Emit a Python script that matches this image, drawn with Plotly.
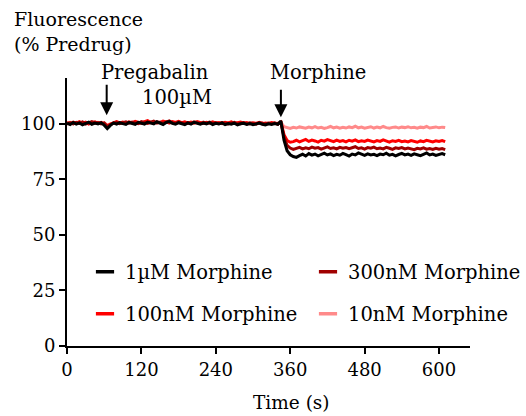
import plotly.graph_objects as go

# ---------------- data (5 s sampling) ----------------
step_s = 5
series_names = ["10nM Morphine", "100nM Morphine", "300nM Morphine", "1µM Morphine"]
series_colors = ["#FF8A8A", "#FF0000", "#A00000", "#000000"]

morphine_10nM = [
    100.0, 100.5, 99.9, 100.4, 100.1, 100.7, 100.2, 100.5, 99.9, 100.3,
    100.6, 100.2, 100.4, 99.4, 100.0, 100.3, 100.7, 100.1, 100.5, 100.2,
    100.6, 100.3, 100.8, 100.4, 100.1, 100.5, 100.9, 100.3, 100.6, 100.2,
    100.7, 100.4, 100.9, 100.2, 100.6, 100.3, 100.8, 100.1, 100.5, 100.2,
    100.5, 100.1, 100.6, 100.3, 100.7, 100.2, 100.4, 100.0, 100.5, 100.2,
    100.4, 100.0, 100.3, 100.6, 100.1, 100.3, 99.9, 100.4, 100.1, 100.3,
    99.9, 100.2, 100.0, 100.4, 99.8, 100.1, 100.3, 99.9, 100.2, 100.5,
    98.6, 98.1, 97.8, 98.3, 98.0, 98.5, 98.2, 97.9, 98.4, 98.1,
    98.6, 98.0, 98.3, 97.8, 98.2, 98.7, 98.1, 98.4, 97.9, 98.3,
    98.0, 98.5, 98.2, 98.8, 98.1, 98.4, 97.9, 98.3, 98.6, 98.0,
    98.4, 98.1, 98.7, 98.2, 97.9, 98.3, 98.5, 98.0, 98.4, 98.2,
    98.6, 98.1, 98.3, 97.9, 98.4, 98.2, 98.7, 98.0, 98.3, 98.5,
    98.1, 98.4, 98.2,
]
morphine_100nM = [
    100.5, 99.9, 100.7, 100.2, 100.9, 100.1, 100.6, 99.8, 100.4, 100.8,
    100.1, 100.6, 99.9, 98.9, 99.8, 100.5, 100.9, 100.3, 100.7, 100.1,
    100.8, 100.3, 101.0, 100.5, 100.2, 100.9, 101.3, 100.6, 100.2, 100.8,
    100.4, 101.1, 100.7, 100.3, 100.9, 100.5, 101.0, 100.4, 100.8, 100.2,
    100.7, 100.3, 100.9, 100.5, 100.1, 100.6, 100.3, 100.8, 100.2, 100.5,
    100.0, 100.6, 100.3, 100.8, 100.1, 100.4, 100.7, 100.2, 100.5, 99.9,
    100.4, 100.1, 100.6, 99.9, 100.3, 100.0, 100.5, 100.2, 99.8, 100.7,
    95.0, 92.4, 91.6, 91.9, 92.5, 91.8, 92.3, 92.9, 92.0, 92.6,
    92.2, 91.7, 92.5, 92.1, 92.8, 92.3, 91.9, 92.6, 92.0, 92.4,
    91.8, 92.5, 92.1, 92.7, 91.9, 92.3, 92.0, 92.6, 92.2, 91.8,
    92.4, 92.0, 92.7, 92.1, 91.7, 92.3, 92.0, 92.5, 91.9, 92.2,
    91.8, 92.4, 92.0, 91.6, 92.2, 91.9, 92.5, 92.1, 91.8, 92.3,
    92.0, 92.4, 91.9,
]
morphine_300nM = [
    99.8, 100.4, 99.9, 100.6, 100.1, 100.7, 99.8, 100.3, 100.9, 100.2,
    100.5, 99.9, 100.3, 98.6, 99.6, 100.1, 100.6, 100.0, 100.5, 100.8,
    100.2, 100.7, 100.3, 100.0, 100.9, 100.4, 100.1, 100.6, 101.1, 100.3,
    100.6, 100.2, 100.8, 101.2, 100.4, 100.1, 100.7, 100.3, 100.0, 100.5,
    100.1, 100.8, 100.4, 100.0, 100.6, 100.2, 100.7, 100.1, 100.4, 100.0,
    100.5, 100.1, 99.8, 100.3, 100.6, 99.9, 100.2, 100.5, 99.8, 100.3,
    100.0, 99.7, 100.4, 100.1, 99.8, 100.2, 99.9, 100.3, 99.8, 100.6,
    94.0, 90.2, 89.0, 88.4, 88.9, 89.3, 88.6, 89.1, 88.7, 89.4,
    88.9, 89.2, 88.5, 89.0, 89.5, 88.8, 89.1, 88.6, 89.3, 88.9,
    89.2, 88.7, 89.0, 89.6, 88.8, 89.1, 88.5, 89.2, 88.9, 89.4,
    88.7, 89.0, 88.6, 89.3, 88.9, 88.4, 89.1, 88.8, 89.2, 88.6,
    89.0, 88.7, 88.3, 88.9, 88.6, 89.1, 88.5, 88.8, 88.4, 88.9,
    88.5, 88.8, 88.3,
]
morphine_1uM = [
    100.2, 99.6, 100.5, 99.8, 100.3, 99.5, 100.1, 100.6, 99.7, 100.2,
    99.9, 100.4, 99.3, 97.8, 99.2, 100.3, 99.8, 100.4, 100.0, 99.6,
    100.5, 100.1, 99.7, 100.6, 100.2, 99.8, 100.7, 100.3, 99.9, 100.8,
    100.2, 99.6, 100.5, 100.9, 100.1, 99.7, 100.4, 100.0, 99.5, 100.3,
    99.8, 100.6, 100.1, 99.7, 100.2, 99.9, 100.4, 99.6, 100.1, 99.8,
    100.3, 99.5, 100.0, 99.7, 100.2, 99.4, 99.9, 100.1, 99.6, 100.0,
    99.5, 99.8, 100.2, 99.7, 99.4, 99.9, 99.6, 100.0, 99.7, 101.2,
    92.5, 87.8, 86.0, 85.2, 84.8, 85.6, 86.2, 85.4, 86.5, 85.8,
    86.3, 85.5, 86.1, 86.7, 85.9, 86.4, 85.6, 86.2, 85.8, 86.6,
    86.0, 85.4, 86.3, 85.9, 86.8, 86.1, 85.7, 86.4, 85.9, 86.2,
    85.6, 86.3, 86.0, 86.7, 85.8, 86.2, 85.5, 86.1, 86.6, 85.9,
    86.3, 85.7, 86.4, 86.0, 85.6, 86.2, 86.8, 85.9, 86.3, 85.7,
    86.1, 86.5, 86.0,
]
series_values = [morphine_10nM, morphine_100nM, morphine_300nM, morphine_1uM]

x_ticks = [0, 120, 240, 360, 480, 600]
y_ticks = [0, 25, 50, 75, 100]
event_labels = ["Pregabalin", "Morphine"]
event_times = [64, 345]

FONT = "DejaVu Serif"
W, H = 526, 416
ML, MR, MT, MB = 67, 56, 78, 70
PW, PH = W - ML - MR, H - MT - MB


def paper_x(px):
    return (px - ML) / PW


def paper_y(py):
    return (H - MB - py) / PH


fig = go.Figure()

# data traces (bottom to top: pink, red, dark red, black)
for name, color, vals in zip(series_names, series_colors, series_values):
    t = [i * step_s for i in range(len(vals))]
    fig.add_trace(go.Scatter(
        x=t, y=vals, mode="lines", name=name, showlegend=False,
        line=dict(color=color, width=3),
    ))

# legend entries: one legend per entry, short thick dash symbols
legend_order = ["1µM Morphine", "300nM Morphine", "100nM Morphine", "10nM Morphine"]
legend_pos = {  # px of entry start (x) and row centre (y)
    "1µM Morphine": (85, 272),
    "300nM Morphine": (308, 272),
    "100nM Morphine": (85, 314),
    "10nM Morphine": (308, 314),
}
legend_layout = {}
for k, name in enumerate(legend_order):
    color = series_colors[series_names.index(name)]
    lid = "legend" if k == 0 else f"legend{k + 1}"
    fig.add_trace(go.Scatter(
        x=[None], y=[None], mode="markers", name=name, legend=lid,
        showlegend=True,
        marker=dict(symbol="line-ew-open", size=13, color=color,
                    line=dict(width=3.5, color=color)),
    ))
    px, py = legend_pos[name]
    legend_layout[lid] = dict(
        xref="paper", yref="paper", x=paper_x(px), y=paper_y(py),
        xanchor="left", yanchor="middle", bgcolor="rgba(0,0,0,0)",
        borderwidth=0, font=dict(family=FONT, size=19.5, color="black"),
    )

axis_common = dict(
    showline=True, linewidth=2, linecolor="black", showgrid=False,
    zeroline=False, ticks="outside", ticklen=6, tickwidth=2,
    tickcolor="black", tickfont=dict(family=FONT, size=18, color="black"),
    mirror=False,
)

fig.update_layout(
    width=W, height=H,
    margin=dict(l=ML, r=MR, t=MT, b=MB, autoexpand=False),
    paper_bgcolor="white", plot_bgcolor="white",
    xaxis=dict(range=[0, 650], tickvals=x_ticks, **axis_common),
    yaxis=dict(range=[0, 120.5], tickvals=y_ticks, **axis_common),
    **legend_layout,
)


def text_note(text, px, py, size, xanchor="center", yanchor="middle"):
    fig.add_annotation(
        xref="paper", yref="paper", x=paper_x(px), y=paper_y(py),
        xanchor=xanchor, yanchor=yanchor, align="left", showarrow=False,
        text=text, font=dict(family=FONT, size=size, color="black"),
    )


# y-axis title at top-left
text_note("Fluorescence<br>(% Predrug)", 12, 6, 19, xanchor="left", yanchor="top")
# x-axis title
text_note("Time (s)", 291, 402, 18.5)

# event arrows
arrow_tips = [103.7, 102.8]
arrow_lens = [-32, -29]
for t, tip, ay in zip(event_times, arrow_tips, arrow_lens):
    fig.add_annotation(
        x=t, y=tip, xref="x", yref="y", text="", showarrow=True,
        ax=0, ay=ay, arrowhead=2, arrowsize=1.3, arrowwidth=2,
        arrowcolor="black", standoff=0,
    )
# event labels
text_note(event_labels[0], 155, 72, 19.5)
text_note("100µM", 177, 97, 19.5)
text_note(event_labels[1], 318, 72, 19.5)

fig.write_html("out.html")
